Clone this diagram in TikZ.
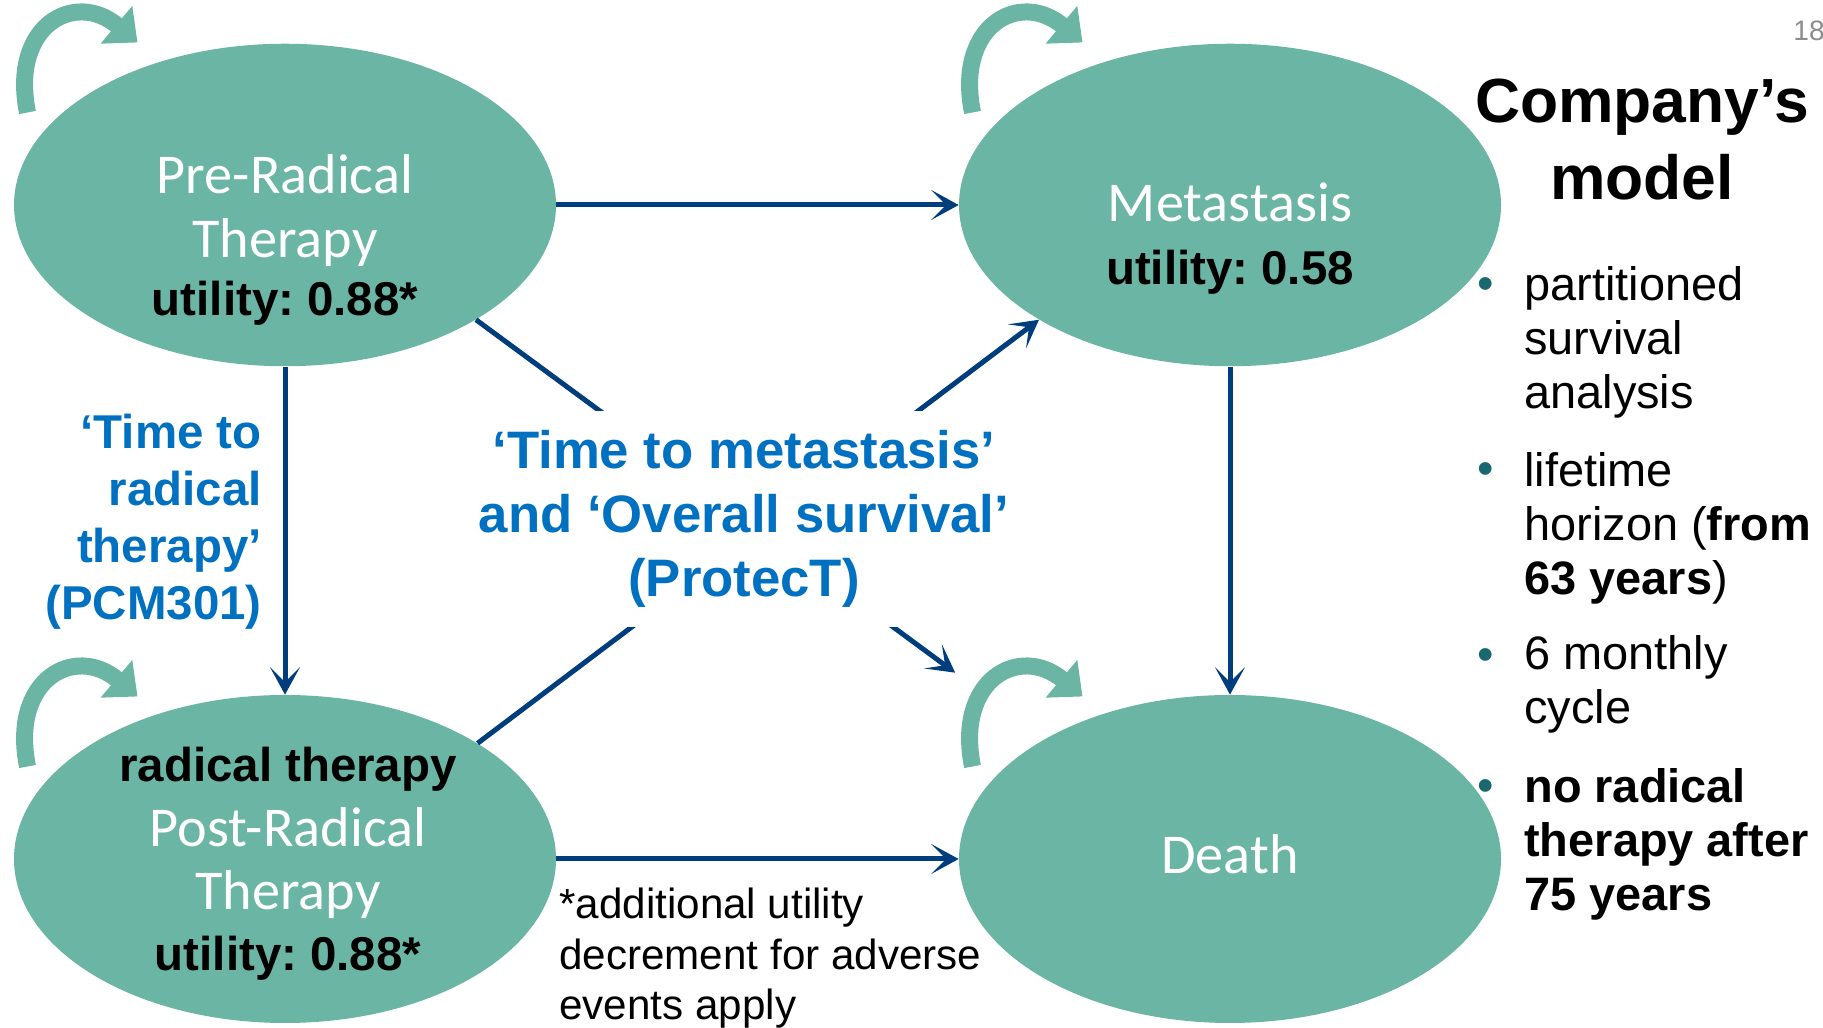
\documentclass[tikz,border=0pt]{standalone}
\usepackage{fontspec}
\setmainfont{Liberation Sans}
\newfontfamily\statefont{Carlito}
\usepackage{tikz}
\usetikzlibrary{shapes.geometric, arrows.meta}
\frenchspacing
\definecolor{stateteal}{RGB}{107,181,164}
\definecolor{arrownavy}{RGB}{0,61,125}
\definecolor{labelblue}{RGB}{0,112,192}
\definecolor{bulletteal}{RGB}{27,103,112}
\definecolor{pagegrey}{RGB}{140,140,140}
\tikzset{state/.style={ellipse, fill=stateteal, minimum width=10.84cm, minimum height=6.45cm, inner sep=0pt}}
\tikzset{statetext/.style={align=center, anchor=base, inner sep=0pt, text=white, font=\statefont\fontsize{32}{36}\selectfont}}
\tikzset{trans/.style={draw=arrownavy, line width=0.1cm, -{Stealth[length=0.55cm, width=0.6cm, inset=0.3cm]}}}
\tikzset{stay/.style={draw=stateteal, line width=0.34cm, -{Triangle[length=0.55cm, width=0.95cm]}}}
\tikzset{bluelabel/.style={inner sep=0pt, text=labelblue, font=\bfseries\fontsize{27}{32.4}\selectfont}}
\tikzset{listitem/.style={anchor=base west, align=left, inner sep=0pt, font=\fontsize{26.7}{31}\selectfont}}
\tikzset{bulletdot/.style={anchor=base west, inner sep=0pt, text=bulletteal, font=\fontsize{26.7}{31}\selectfont}}
\newcommand{\utility}[1]{{\normalfont\bfseries\fontsize{27}{32}\selectfont\color{black}utility: #1}}
\newcommand{\stayloop}[1]{\draw[stay] (#1.center) ++(-5.15,1.85) .. controls +(-0.35,1.75) and +(-1.25,1.05) .. +(2.2,1.4);}

\begin{document}
\begin{tikzpicture}
\useasboundingbox (0,0) rectangle (36.46,20.56);

\node[state] (pre) at (5.70,16.46) {};
\node[state] (meta) at (24.60,16.46) {};
\node[state, minimum height=6.56cm] (post) at (5.70,3.38) {};
\node[state, minimum height=6.56cm] (death) at (24.60,3.38) {};

\stayloop{pre}
\stayloop{meta}
\stayloop{post}
\stayloop{death}

\draw[trans] (pre) -- (meta);
\draw[trans] (pre) -- (post);
\draw[trans] (meta) -- (death);
\draw[trans] (post) -- (death);
\draw[trans] (post.31) -- (meta.211);
\draw[trans, shorten >=2.23cm] (pre.329) -- (death.147);

% base anchor of a multi-line node = last line
\node[statetext] (pretext) at (5.70,14.24) {Pre-Radical\\Therapy\\[-2.5pt]\utility{0.88*}};
\node[statetext] (metatext) at (24.60,14.86) {Metastasis\\\utility{0.58}};
\node[statetext] (posttext) at (5.76,1.14) {{\normalfont\bfseries\fontsize{27}{32}\selectfont\color{black}radical therapy}\\[1pt]Post-Radical\\Therapy\\[-1pt]\utility{0.88*}};
\node[statetext] (deathtext) at (24.60,3.08) {Death};

\node[bluelabel, font=\bfseries\fontsize{30}{36.3}\selectfont, fill=white, align=center, minimum width=10.9cm, minimum height=4.32cm] (survival) at (14.88,10.18) {‘Time to metastasis’\\and ‘Overall survival’\\(ProtecT)};
\node[bluelabel, align=right, anchor=east] (radical) at (5.24,10.12) {‘Time to\\radical\\therapy’\\(PCM301)};

\node[anchor=base west, align=left, inner sep=0pt, font=\fontsize{24}{29}\selectfont] (note) at (11.18,0.16) {*additional utility\\decrement for adverse\\events apply};

\node[anchor=base west, inner sep=0pt, text=pagegrey, font=\fontsize{16}{19}\selectfont] (page) at (35.86,19.74) {18};
\node[anchor=base, align=center, inner sep=0pt, font=\bfseries\fontsize{35.5}{44.2}\selectfont] (title) at (32.84,16.56) {Company’s\\model};

\node[bulletdot] (dot1) at (29.54,14.56) {\textbullet};
\node[listitem] (item1) at (30.48,12.38) {partitioned\\survival\\analysis};
\node[bulletdot] (dot2) at (29.54,10.86) {\textbullet};
\node[listitem] (item2) at (30.48,8.66) {lifetime\\horizon (\textbf{from}\\\textbf{63 years})};
\node[bulletdot] (dot3) at (29.54,7.14) {\textbullet};
\node[listitem] (item3) at (30.48,6.08) {6 monthly\\cycle};
\node[bulletdot] (dot4) at (29.54,4.52) {\textbullet};
\node[listitem, font=\bfseries\fontsize{26.7}{31}\selectfont] (item4) at (30.48,2.34) {no radical\\therapy after\\75 years};
\end{tikzpicture}
\end{document}
